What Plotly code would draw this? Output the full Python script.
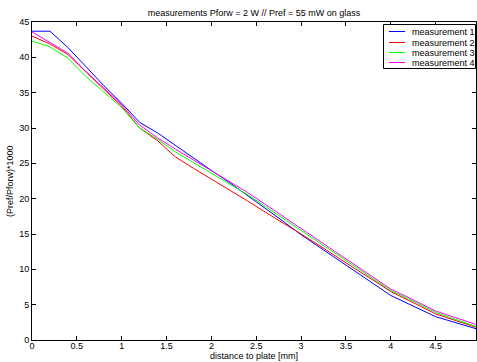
import plotly.graph_objects as go

distance = [0, 0.2, 0.4, 0.6, 0.8, 1.0, 1.2, 1.4, 1.6, 1.8, 2.0, 2.2, 2.4, 2.6, 2.8,
            3.0, 3.2, 3.4, 3.6, 3.8, 4.0, 4.2, 4.5, 4.95]
meas1 = [43.7, 43.7, 41.4, 38.7, 36.0, 33.5, 30.8, 29.3, 27.5, 25.8, 24.0, 22.3, 20.5, 18.6, 16.8,
         14.9, 13.2, 11.4, 9.8, 8.0, 6.3, 5.1, 3.3, 1.6]
meas2 = [43.0, 41.9, 40.4, 37.9, 35.5, 33.1, 30.0, 28.2, 25.9, 24.3, 22.8, 21.3, 19.7, 18.1, 16.6,
         15.0, 13.4, 11.7, 10.1, 8.5, 6.85, 5.6, 3.7, 1.8]
meas3 = [42.3, 41.5, 39.9, 37.3, 35.1, 32.9, 30.0, 28.4, 26.6, 25.1, 23.7, 22.2, 20.6, 18.9, 17.2,
         15.5, 13.8, 12.1, 10.4, 8.7, 7.0, 5.8, 3.9, 1.9]
meas4 = [43.6, 42.1, 40.6, 38.0, 35.6, 33.3, 30.4, 28.6, 27.0, 25.5, 24.0, 22.5, 20.9, 19.2, 17.5,
         15.8, 14.1, 12.4, 10.7, 8.9, 7.2, 6.0, 4.1, 2.2]

series_names = ["measurement 1", "measurement 2", "measurement 3", "measurement 4"]
series_values = [meas1, meas2, meas3, meas4]
series_colors = ["#0000ff", "#ff0000", "#00ff00", "#ff00ff"]

x_ticks = [0, 0.5, 1, 1.5, 2, 2.5, 3, 3.5, 4, 4.5]
x_ticklabels = ["0", "0.5", "1", "1.5", "2", "2.5", "3", "3.5", "4", "4.5"]
y_ticks = [0, 5, 10, 15, 20, 25, 30, 35, 40, 45]

FAM = "Liberation Sans, Arial, sans-serif"
W, H = 477, 362
ML, MR, MT, MB = 32, 1, 22, 22
PW, PH = W - ML - MR, H - MT - MB


def px_x(px):
    return (px - ML) / PW


def px_y(py):
    return (H - MB - py) / PH


fig = go.Figure()
for name, vals, col in zip(series_names, series_values, series_colors):
    fig.add_trace(go.Scatter(x=distance, y=vals, mode="lines", name=name,
                             line=dict(color=col, width=1), showlegend=False,
                             hoverinfo="skip"))

font = dict(family=FAM, size=9, color="#000")
axis_common = dict(showgrid=False, zeroline=False, showline=True, linecolor="#000",
                   linewidth=1, mirror="ticks", ticks="inside", ticklen=4,
                   tickcolor="#000", tickfont=font, automargin=False)

shapes = []
annotations = []

# legend box (manual, MATLAB style)
shapes.append(dict(type="rect", xref="paper", yref="paper",
                   x0=px_x(383.5), x1=px_x(475.5), y0=px_y(68.5), y1=px_y(24.5),
                   line=dict(color="#000", width=1), fillcolor="#fff", layer="above"))
row_y = [31.5, 42.5, 52.5, 62.5]
for name, col, ry in zip(series_names, series_colors, row_y):
    shapes.append(dict(type="line", xref="paper", yref="paper",
                       x0=px_x(389), x1=px_x(405), y0=px_y(ry), y1=px_y(ry),
                       line=dict(color=col, width=1), layer="above"))
    annotations.append(dict(text=name, xref="paper", yref="paper", x=px_x(410), y=px_y(ry),
                            xanchor="left", yanchor="middle", showarrow=False, font=font))

# axis titles
annotations.append(dict(text="distance to plate [mm]", xref="paper", yref="paper",
                        x=0.5, y=px_y(356), xanchor="center", yanchor="middle",
                        showarrow=False, font=font))
annotations.append(dict(text="(Pref/Pforw)*1000", xref="paper", yref="paper",
                        x=px_x(10), y=0.5, xanchor="center", yanchor="middle",
                        textangle=-90, showarrow=False, font=font))

fig.update_layout(
    width=W, height=H,
    margin=dict(l=ML, r=MR, t=MT, b=MB, autoexpand=False),
    paper_bgcolor="#fff", plot_bgcolor="#fff",
    font=font,
    hovermode=False,
    title=dict(text="measurements Pforw = 2 W // Pref = 55 mW on glass",
               x=254 / W, xanchor="center", y=1 - 13 / H, yanchor="middle",
               font=dict(family=FAM, size=9, color="#000")),
    xaxis=dict(range=[0, 4.95], tickvals=x_ticks, ticktext=x_ticklabels,
               ticklabelstandoff=-3, **axis_common),
    yaxis=dict(range=[0, 45], tickvals=y_ticks, **axis_common),
    shapes=shapes,
    annotations=annotations,
    showlegend=False,
)

fig.write_html("out.html", config={"displayModeBar": False, "staticPlot": True},
               post_script="document.body.style.margin='0';document.body.style.overflow='hidden';")
